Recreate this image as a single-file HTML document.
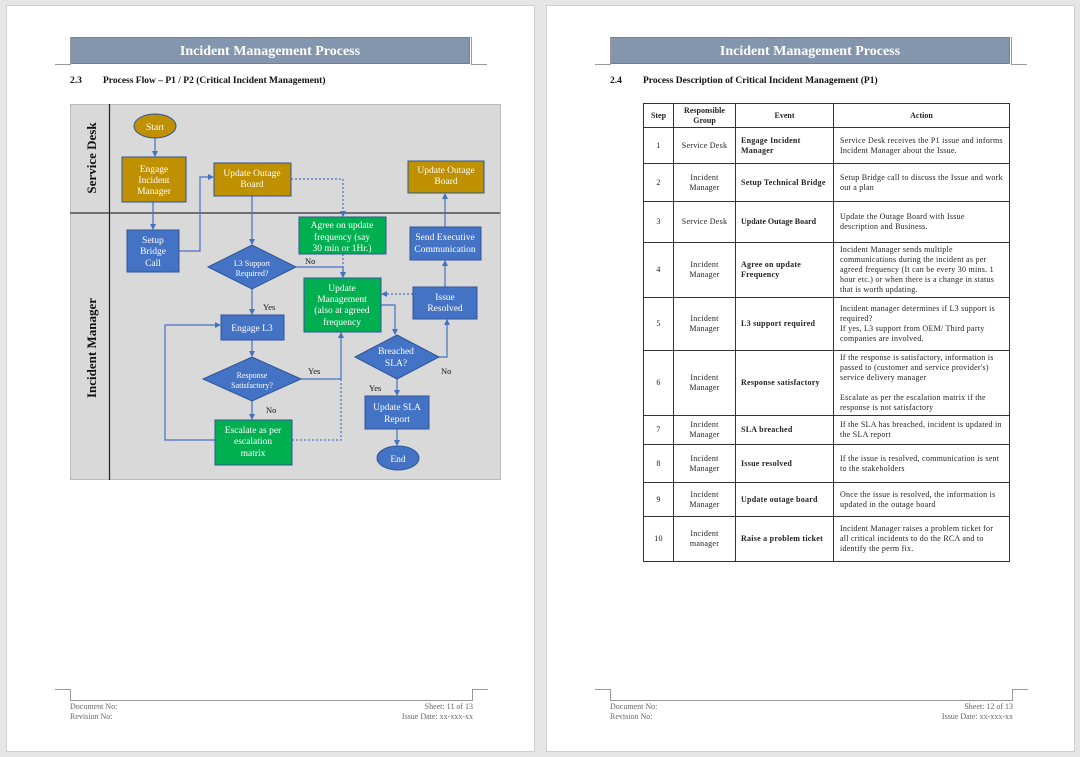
<!DOCTYPE html>
<html><head><meta charset="utf-8"><style>
*{margin:0;padding:0;box-sizing:border-box}
body{width:1080px;height:757px;background:#e6e6e6;position:relative;overflow:hidden;font-family:"Liberation Serif",serif;}
.page{position:absolute;top:5px;width:529px;height:747px;background:#fff;border:1px solid #cfcfcf}
.hb{position:absolute;top:37px;height:27px;width:400px;background:#8496ae;color:#fff;font-weight:bold;font-size:14px;text-align:center;line-height:28px;border:1px solid #6f7f96}
.abs{position:absolute}
.sec{position:absolute;top:76px;font-size:9.5px;font-weight:bold;color:#111}
.ft{position:absolute;font-size:8px;color:#666;line-height:10px}
table{position:absolute;left:643px;top:103px;width:367px;border-collapse:collapse;font-size:8px;letter-spacing:0.25px;color:#222;line-height:10px}
td,th{border:1px solid #333;padding:0 6px;vertical-align:middle}
th{font-weight:bold;text-align:center;height:24px;letter-spacing:0}
td.c{text-align:center;padding:0 3px}
td.e{font-weight:bold;padding:0 4px 0 5px}
</style></head><body>
<div class="page" style="left:6px"></div>
<div class="page" style="left:546px"></div>

<div class="hb" style="left:70px">Incident Management Process</div>
<div class="hb" style="left:610px">Incident Management Process</div>
<svg class="abs" style="left:0;top:0" width="1080" height="757">
<g stroke="#999" fill="none" stroke-width="1">
<path d="M55 64.5H70.5V37"/><path d="M471.5 37V64.5H487"/>
<path d="M595 64.5H610.5V37"/><path d="M1011.5 37V64.5H1027"/>
<path d="M55 689.5H70.5V700.5H472.5V689.5H488"/>
<path d="M595 689.5H610.5V700.5H1012.5V689.5H1028"/>
</g></svg>
<div class="sec" style="left:70px">2.3</div><div class="sec" style="left:103px">Process Flow – P1 / P2 (Critical Incident Management)</div>
<div class="sec" style="left:610px">2.4</div><div class="sec" style="left:643px">Process Description of Critical Incident Management (P1)</div>

<div class="ft" style="left:70px;top:702px">Document No:<br>Revision No:</div>
<div class="ft" style="left:350px;width:123px;text-align:right;top:702px">Sheet: 11 of 13<br>Issue Date: xx-xxx-xx</div>
<div class="ft" style="left:610px;top:702px">Document No:<br>Revision No:</div>
<div class="ft" style="left:890px;width:123px;text-align:right;top:702px">Sheet: 12 of 13<br>Issue Date: xx-xxx-xx</div>

<svg class="abs" style="left:0;top:0" width="1080" height="757" font-family="Liberation Serif, serif">
<defs><marker id="a" markerWidth="6" markerHeight="6" refX="5" refY="3" orient="auto" markerUnits="userSpaceOnUse"><path d="M0,0L6,3L0,6z" fill="#4472c4"/></marker></defs>
<rect x="70.5" y="104.5" width="430" height="375" fill="#d9d9d9" stroke="#bbb"/>
<line x1="109.5" y1="104" x2="109.5" y2="480" stroke="#222" stroke-width="1.2"/>
<line x1="70" y1="213" x2="500" y2="213" stroke="#333" stroke-width="1.2"/>
<text transform="translate(96,158) rotate(-90)" text-anchor="middle" font-size="13" font-weight="bold" fill="#111">Service Desk</text>
<text transform="translate(96,348) rotate(-90)" text-anchor="middle" font-size="13" font-weight="bold" fill="#111">Incident Manager</text>

<g stroke="#4472c4" stroke-width="1.2" fill="none">
<path d="M155 138V156" marker-end="url(#a)"/>
<path d="M153 202V229" marker-end="url(#a)"/>
<path d="M179 251H200V177H213" marker-end="url(#a)"/>
<path d="M252 196V244" marker-end="url(#a)"/>
<path d="M291 179H343V216" stroke-dasharray="2,2" marker-end="url(#a)"/>
<path d="M343 254V277" stroke-dasharray="2,2" marker-end="url(#a)"/>
<path d="M296 267H343V277" marker-end="url(#a)"/>
<path d="M252 289V314" marker-end="url(#a)"/>
<path d="M252 340V356" marker-end="url(#a)"/>
<path d="M301 379H341V333" marker-end="url(#a)"/>
<path d="M252 401V419" marker-end="url(#a)"/>
<path d="M215 440H165V325H220" marker-end="url(#a)"/>
<path d="M292 440H341V379" stroke-dasharray="2,2"/>
<path d="M381 305H395V334" marker-end="url(#a)"/>
<path d="M439 357H447V320" marker-end="url(#a)"/>
<path d="M397 379V395" marker-end="url(#a)"/>
<path d="M397 429V445" marker-end="url(#a)"/>
<path d="M445 287V261" marker-end="url(#a)"/>
<path d="M445 227V194" marker-end="url(#a)"/>
<path d="M413 294H382" stroke-dasharray="2,2" marker-end="url(#a)"/>
</g>

<g stroke="#2f5597" stroke-width="1">
<ellipse cx="155" cy="126" rx="21" ry="12" fill="#bf9000"/>
<rect x="122" y="157" width="64" height="45" fill="#bf9000"/>
<rect x="214" y="163" width="77" height="33" fill="#bf9000"/>
<rect x="408" y="161" width="76" height="32" fill="#bf9000"/>
<rect x="127" y="230" width="52" height="42" fill="#4472c4"/>
<rect x="299" y="217" width="87" height="37" fill="#00b050"/>
<polygon points="208,267 252,245 296,267 252,289" fill="#4472c4"/>
<rect x="304" y="278" width="77" height="54" fill="#00b050"/>
<rect x="413" y="287" width="64" height="32" fill="#4472c4"/>
<rect x="410" y="227" width="71" height="33" fill="#4472c4"/>
<rect x="221" y="315" width="63" height="25" fill="#4472c4"/>
<polygon points="203,379 252,357 301,379 252,401" fill="#4472c4"/>
<polygon points="355,357 397,335 439,357 397,379" fill="#4472c4"/>
<rect x="365" y="396" width="64" height="33" fill="#4472c4"/>
<ellipse cx="398" cy="458" rx="21" ry="12" fill="#4472c4"/>
<rect x="215" y="420" width="77" height="45" fill="#00b050"/>
</g>

<g fill="#fff" font-size="9.5" text-anchor="middle">
<text x="155" y="130">Start</text>
<text x="154" y="172">Engage</text><text x="154" y="183">Incident</text><text x="154" y="194">Manager</text>
<text x="252" y="176">Update Outage</text><text x="252" y="187">Board</text>
<text x="446" y="173">Update Outage</text><text x="446" y="184">Board</text>
<text x="153" y="243">Setup</text><text x="153" y="254">Bridge</text><text x="153" y="266">Call</text>
<text x="342" y="228">Agree on update</text><text x="342" y="240">frequency (say</text><text x="342" y="251">30 min or 1Hr.)</text>
<text x="252" y="266" font-size="8">L3 Support</text><text x="252" y="276" font-size="8">Required?</text>
<text x="342" y="291">Update</text><text x="342" y="302">Management</text><text x="342" y="313">(also at agreed</text><text x="342" y="325">frequency</text>
<text x="445" y="300">Issue</text><text x="445" y="311">Resolved</text>
<text x="445" y="240">Send Executive</text><text x="445" y="252">Communication</text>
<text x="252" y="331">Engage L3</text>
<text x="252" y="378" font-size="8">Response</text><text x="252" y="388" font-size="8">Satisfactory?</text>
<text x="396" y="354">Breached</text><text x="396" y="366">SLA?</text>
<text x="397" y="410">Update SLA</text><text x="397" y="422">Report</text>
<text x="398" y="462">End</text>
<text x="253" y="433">Escalate as per</text><text x="253" y="444">escalation</text><text x="253" y="456">matrix</text>
</g>
<g fill="#111" font-size="8.5">
<text x="305" y="264">No</text>
<text x="263" y="310">Yes</text>
<text x="308" y="374">Yes</text>
<text x="266" y="413">No</text>
<text x="441" y="374">No</text>
<text x="369" y="391">Yes</text>
</g>
</svg>

<table>
<tr><th style="width:30px">Step</th><th style="width:62px">Responsible<br>Group</th><th style="width:98px">Event</th><th>Action</th></tr>
<tr style="height:36px"><td class="c">1</td><td class="c">Service Desk</td><td class="e">Engage Incident Manager</td><td>Service Desk receives the P1 issue and informs Incident Manager about the Issue.</td></tr>
<tr style="height:38px"><td class="c">2</td><td class="c">Incident Manager</td><td class="e">Setup Technical Bridge</td><td>Setup Bridge call to discuss the Issue and work out a plan</td></tr>
<tr style="height:41px"><td class="c">3</td><td class="c">Service Desk</td><td class="e" style="letter-spacing:0">Update Outage Board</td><td>Update the Outage Board with Issue description and Business.</td></tr>
<tr style="height:55px"><td class="c">4</td><td class="c">Incident Manager</td><td class="e">Agree on update Frequency</td><td>Incident Manager sends multiple communications during the incident as per agreed frequency (It can be every 30 mins. 1 hour etc.) or when there is a change in status that is worth updating.</td></tr>
<tr style="height:53px"><td class="c">5</td><td class="c">Incident Manager</td><td class="e">L3 support required</td><td>Incident manager determines if L3 support is required?<br>If yes, L3 support from OEM/ Third party companies are involved.</td></tr>
<tr style="height:65px"><td class="c">6</td><td class="c">Incident Manager</td><td class="e">Response satisfactory</td><td>If the response is satisfactory, information is passed to (customer and service provider's) service delivery manager<br><br>Escalate as per the escalation matrix if the response is not satisfactory</td></tr>
<tr style="height:29px"><td class="c">7</td><td class="c">Incident Manager</td><td class="e">SLA breached</td><td>If the SLA has breached, incident is updated in the SLA report</td></tr>
<tr style="height:38px"><td class="c">8</td><td class="c">Incident Manager</td><td class="e">Issue resolved</td><td>If the issue is resolved, communication is sent to the stakeholders</td></tr>
<tr style="height:34px"><td class="c">9</td><td class="c">Incident Manager</td><td class="e">Update outage board</td><td>Once the issue is resolved, the information is updated in the outage board</td></tr>
<tr style="height:45px"><td class="c">10</td><td class="c">Incident manager</td><td class="e">Raise a problem ticket</td><td>Incident Manager raises a problem ticket for all critical incidents to do the RCA and to identify the perm fix.</td></tr>
</table>
</body></html>
